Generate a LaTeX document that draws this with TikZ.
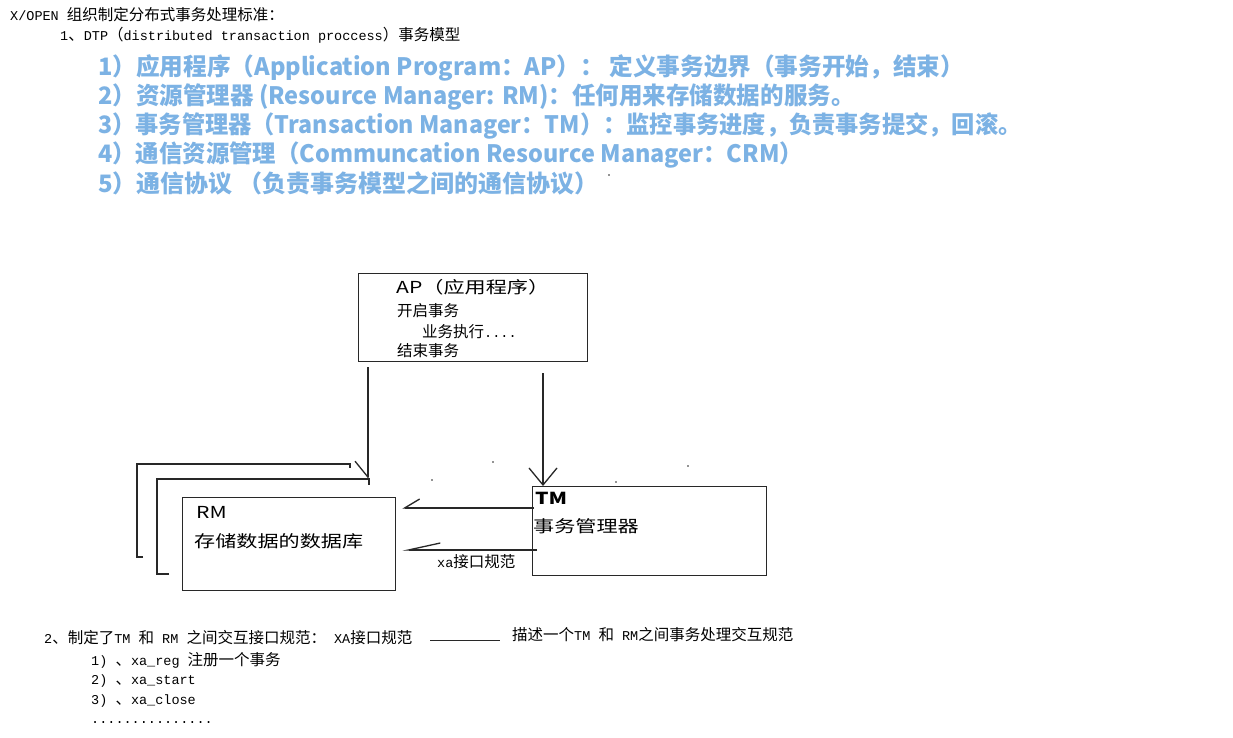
\documentclass[tikz,border=0pt]{standalone}
\usepackage{fontspec}
\setmainfont{Noto Sans CJK SC}
\newfontfamily\cjk{Noto Sans CJK SC}
\newfontfamily\mono{Liberation Mono}
\usetikzlibrary{arrows.meta}
\definecolor{lightblue}{RGB}{124,178,228}
\definecolor{inkc}{RGB}{40,40,40}
\newcommand{\smtxt}{\fontsize{15.5pt}{18pt}\selectfont\cjk}
\newcommand{\mo}[1]{{\fontsize{13.5pt}{18pt}\selectfont\mono #1}}
\newcommand{\wide}[1]{\scalebox{1.28}[1]{#1}}
\newcommand{\hs}[2]{\scalebox{#1}[1]{#2}}
\tikzset{
  txt/.style={anchor=west,inner sep=0pt,text=black,font=\smtxt},
  bluetxt/.style={anchor=west,inner sep=0pt,text=lightblue,font=\fontsize{24pt}{28pt}\selectfont\cjk\bfseries},
  boxtxt/.style={anchor=west,inner sep=0pt,text=black,font=\fontsize{16.5pt}{20pt}\selectfont\cjk},
  box/.style={draw=inkc,line width=1.3pt,anchor=north west,inner sep=0pt},
  conn/.style={draw=inkc,line width=1.3pt},
  layer/.style={draw=inkc,line width=1.3pt},
  speck/.style={fill=inkc,inner sep=0pt,minimum size=1.6pt,circle}
}
\begin{document}
\begin{tikzpicture}[x=1pt,y=-1pt]
\path[use as bounding box,fill=white] (0,0) rectangle (1233,737);

% header text
\node[txt] (h1) at (10,15) {\mo{X/OPEN }组织制定分布式事务处理标准：};
\node[txt] (h2) at (60,35) {\mo{1}、\mo{DTP}（\mo{distributed transaction proccess}）事务模型};

% blue list
\node[bluetxt] (b1) at (98,68) {\hs{0.985}{1）应用程序（Application Program：AP）： 定义事务边界（事务开始，结束）}};
\node[bluetxt] (b2) at (98,97) {\hs{0.98}{2）资源管理器 (Resource Manager: RM)：任何用来存储数据的服务。}};
\node[bluetxt] (b3) at (98,126) {\hs{0.968}{3）事务管理器（Transaction Manager：TM）：监控事务进度，负责事务提交，回滚。}};
\node[bluetxt] (b4) at (98,155) {\hs{0.975}{4）通信资源管理（Communcation Resource Manager：CRM）}};
\node[bluetxt] (b5) at (98,183) {5）通信协议 （负责事务模型之间的通信协议）};

% AP box
\node[box,minimum width=229pt,minimum height=88pt] (ap) at (358,273) {};
\node[boxtxt] (aptitle) at (396,287) {\wide{AP（应用程序）}};
\node[txt] (ap1) at (397,311) {开启事务};
\node[txt] (ap2) at (422,332) {业务执行\mo{....}};
\node[txt] (ap3) at (397,351) {结束事务};

% RM stacked boxes
\draw[layer] (143,557) -- (137,557) -- (137,464) -- (350,464) -- (350,468);
\draw[layer] (169,574) -- (157,574) -- (157,479) -- (369,479) -- (369,485);
\coordinate (rmback) at (368,479);
\node[box,minimum width=213pt,minimum height=93pt] (rm) at (182,497) {};
\node[boxtxt] (rmt) at (196,512) {\wide{RM}};
\node[boxtxt] (rmd) at (194,541) {\wide{存储数据的数据库}};

% TM box
\node[box,minimum width=234pt,minimum height=89pt] (tm) at (532,486) {};
\node[boxtxt,font=\fontsize{16.5pt}{20pt}\selectfont\cjk\bfseries] (tmt) at (535,498) {\wide{TM}};
\node[boxtxt] (tmd) at (533,526) {\wide{事务管理器}};

% connectors
\draw[conn,-{Straight Barb[right,length=16pt,width=26pt]}] ([xshift=10pt,yshift=-5pt]ap.south west) -- (rmback);
\draw[conn,-{Straight Barb[length=17pt,width=28pt]}] ([xshift=185pt,yshift=-11pt]ap.south west) -- ([xshift=11pt]tm.north west);
\draw[conn,-{Straight Barb[right,length=15pt,width=18pt]}] ([xshift=2pt,yshift=-22pt]tm.north west) -- ([xshift=6pt,yshift=-11pt]rm.north east);
\draw[conn,-{Straight Barb[right,length=32pt,width=14pt]}] ([xshift=5pt,yshift=-64pt]tm.north west) -- ([xshift=6pt,yshift=-53pt]rm.north east);
\node[txt] (xa) at (437,562) {\mo{xa}接口规范};

% specks
\node[speck] (s1) at (432,480) {};
\node[speck] (s2) at (493,462) {};
\node[speck] (s3) at (616,482) {};
\node[speck] (s4) at (688,466) {};
\node[speck] (s5) at (609,175) {};

% bottom text
\node[txt] (f1) at (44,638) {\mo{2}、制定了\mo{TM }和\mo{ RM }之间交互接口规范：\mo{ XA}接口规范};
\coordinate (dashA) at (430,640);
\coordinate (dashB) at (500,640);
\draw[conn,line width=1pt] (dashA) -- (dashB);
\node[txt] (f2) at (512,635) {描述一个\mo{TM }和\mo{ RM}之间事务处理交互规范};
\node[txt] (f3) at (91,660) {\mo{1) }、\mo{xa\_reg }注册一个事务};
\node[txt] (f4) at (91,681) {\mo{2) }、\mo{xa\_start}};
\node[txt] (f5) at (91,701) {\mo{3) }、\mo{xa\_close}};
\node[txt] (f6) at (91,722) {\mo{...............}};
\end{tikzpicture}
\end{document}
